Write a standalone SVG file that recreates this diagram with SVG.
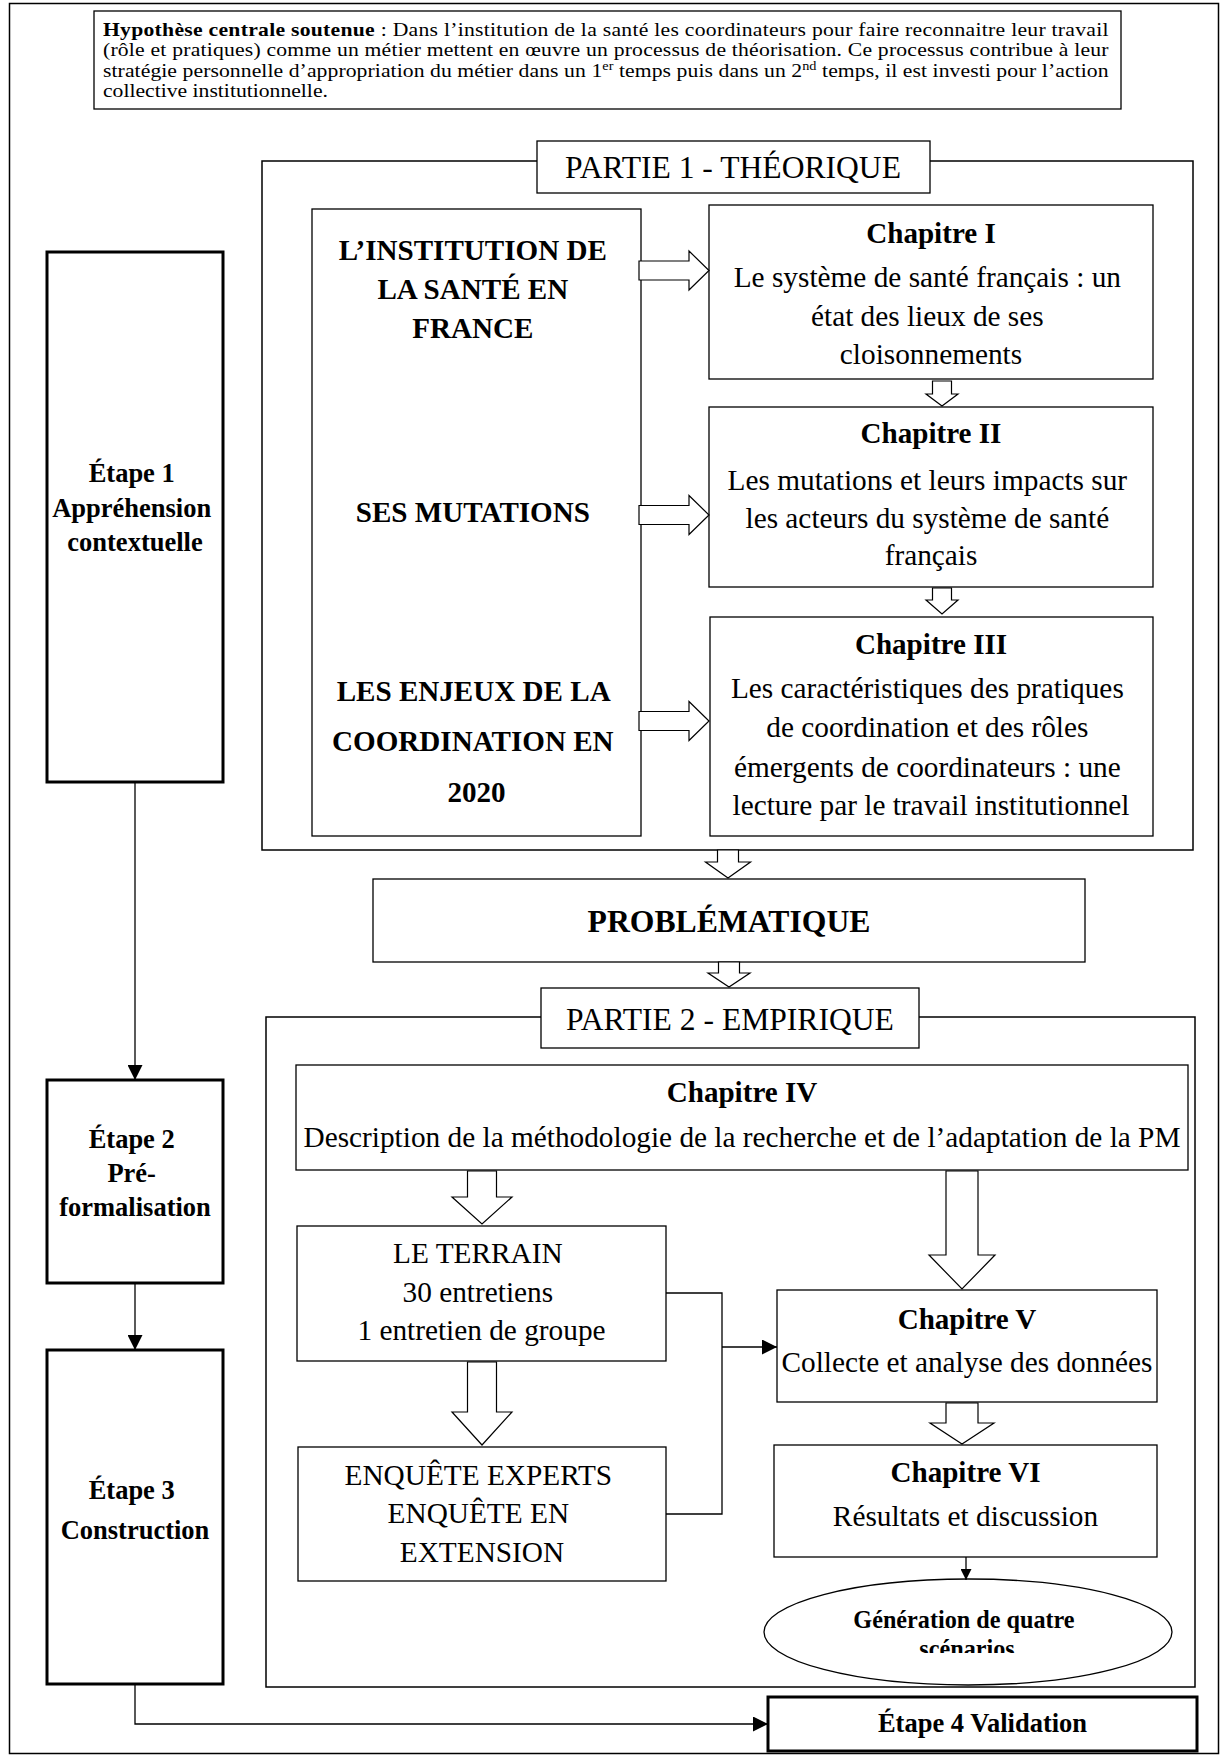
<svg xmlns="http://www.w3.org/2000/svg" width="1222" height="1756" viewBox="0 0 1222 1756">
<defs>
<style>
.t{font-family:"Liberation Serif","Times New Roman",serif;fill:#000}
.m{text-anchor:middle}
.hy{font-size:18.2px}
.pt{font-size:31.6px}
.lb{font-size:29.1px;font-weight:bold}
.ct{font-size:29.1px;font-weight:bold}
.cb{font-size:29.3px}
.et{font-size:26.5px;font-weight:bold}
.pb{font-size:31.7px;font-weight:bold}
.el{font-size:24.2px;font-weight:bold}
.box{fill:#fff;stroke:#000;stroke-width:1.3}
.thick{fill:#fff;stroke:#000;stroke-width:3}
.frame{fill:none;stroke:#000;stroke-width:1.5}
.blk{fill:#fff;stroke:#000;stroke-width:1.2;stroke-linejoin:miter}
.ln{fill:none;stroke:#000;stroke-width:1.3}
</style>
<marker id="ah" viewBox="0 0 15 15" refX="15" refY="7.5" markerWidth="15" markerHeight="15" markerUnits="userSpaceOnUse" orient="auto"><path d="M0,0 L15,7.5 L0,15 Z" fill="#000"/></marker>
<marker id="ah2" viewBox="0 0 11 11" refX="11" refY="5.5" markerWidth="11" markerHeight="11" markerUnits="userSpaceOnUse" orient="auto"><path d="M0,0 L11,5.5 L0,11 Z" fill="#000"/></marker>
<clipPath id="clipE"><rect x="760" y="1585" width="420" height="68"/></clipPath>
</defs>
<rect width="1222" height="1756" fill="#fff"/>
<rect x="9.5" y="3.5" width="1209" height="1750" class="frame"/>

<g id="hypothese">
<rect x="94" y="11" width="1027" height="98" class="box"/>
<text class="t hy" transform="translate(103 0) scale(1.19 1)" x="0" y="36" textLength="845" lengthAdjust="spacing"><tspan font-weight="bold">Hypothèse centrale soutenue</tspan> : Dans l’institution de la santé les coordinateurs pour faire reconnaitre leur travail</text>
<text class="t hy" transform="translate(103 0) scale(1.19 1)" x="0" y="56.3" textLength="845" lengthAdjust="spacing">(rôle et pratiques) comme un métier mettent en œuvre un processus de théorisation. Ce processus contribue à leur</text>
<text class="t hy" transform="translate(103 0) scale(1.19 1)" x="0" y="76.6" textLength="845" lengthAdjust="spacing">stratégie personnelle d’appropriation du métier dans un 1<tspan font-size="12px" dy="-7">er</tspan><tspan dy="7"> temps puis dans un 2</tspan><tspan font-size="12px" dy="-7">nd</tspan><tspan dy="7"> temps, il est investi pour l’action</tspan></text>
<text class="t hy" transform="translate(103 0) scale(1.19 1)" x="0" y="97">collective institutionnelle.</text>
</g>

<g id="partie1">
<rect x="262" y="161" width="931" height="689" class="frame"/>
<rect x="537" y="141" width="393" height="52" class="box"/>
<text class="t m pt" x="733" y="178">PARTIE 1 - THÉORIQUE</text>
</g>

<g id="contexte">
<rect x="312" y="209" width="329" height="627" class="box"/>
<text class="t m lb">
<tspan x="476.5" y="260">L’INSTITUTION DE</tspan>
<tspan x="476.5" y="299">LA SANTÉ EN</tspan>
<tspan x="476.5" y="338">FRANCE</tspan>
<tspan x="476.5" y="522">SES MUTATIONS</tspan>
<tspan x="476.5" y="701">LES ENJEUX DE LA</tspan>
<tspan x="476.5" y="751">COORDINATION EN</tspan>
<tspan x="476.5" y="802">2020</tspan>
</text>
</g>

<g id="chapitre1">
<rect x="709" y="205" width="444" height="174" class="box"/>
<text class="t m ct" x="931" y="243">Chapitre I</text>
<text class="t m cb">
<tspan x="931" y="287">Le système de santé français : un</tspan>
<tspan x="931" y="325.5">état des lieux de ses</tspan>
<tspan x="931" y="364">cloisonnements</tspan>
</text>
</g>

<g id="chapitre2">
<rect x="709" y="407" width="444" height="180" class="box"/>
<text class="t m ct" x="931" y="443">Chapitre II</text>
<text class="t m cb">
<tspan x="931" y="490">Les mutations et leurs impacts sur</tspan>
<tspan x="931" y="528">les acteurs du système de santé</tspan>
<tspan x="931" y="565">français</tspan>
</text>
</g>

<g id="chapitre3">
<rect x="710" y="617" width="443" height="219" class="box"/>
<text class="t m ct" x="931" y="654">Chapitre III</text>
<text class="t m cb">
<tspan x="931" y="698">Les caractéristiques des pratiques</tspan>
<tspan x="931" y="737">de coordination et des rôles</tspan>
<tspan x="931" y="776.5">émergents de coordinateurs : une</tspan>
<tspan x="931" y="815">lecture par le travail institutionnel</tspan>
</text>
</g>

<g id="problematique">
<rect x="373" y="879" width="712" height="83" class="box"/>
<text class="t m pb" x="729" y="932">PROBLÉMATIQUE</text>
</g>

<g id="partie2">
<rect x="266" y="1017" width="929" height="670" class="frame"/>
<rect x="541" y="988" width="378" height="60" class="box"/>
<text class="t m pt" x="730" y="1030">PARTIE 2 - EMPIRIQUE</text>
</g>

<g id="chapitre4">
<rect x="296" y="1065" width="892" height="105" class="box"/>
<text class="t m ct" x="742" y="1102">Chapitre IV</text>
<text class="t m cb" x="742" y="1147">Description de la méthodologie de la recherche et de l’adaptation de la PM</text>
</g>

<g id="terrain">
<rect x="297" y="1226" width="369" height="135" class="box"/>
<text class="t m cb">
<tspan x="481.5" y="1263">LE TERRAIN</tspan>
<tspan x="481.5" y="1302">30 entretiens</tspan>
<tspan x="481.5" y="1340">1 entretien de groupe</tspan>
</text>
</g>

<g id="enquete">
<rect x="298" y="1447" width="368" height="134" class="box"/>
<text class="t m cb">
<tspan x="482" y="1485">ENQUÊTE EXPERTS</tspan>
<tspan x="482" y="1523">ENQUÊTE EN</tspan>
<tspan x="482" y="1562">EXTENSION</tspan>
</text>
</g>

<g id="chapitre5">
<rect x="777" y="1290" width="380" height="112" class="box"/>
<text class="t m ct" x="967" y="1328.5">Chapitre V</text>
<text class="t m cb" x="967" y="1372">Collecte et analyse des données</text>
</g>

<g id="chapitre6">
<rect x="774" y="1445" width="383" height="112" class="box"/>
<text class="t m ct" x="965.5" y="1482">Chapitre VI</text>
<text class="t m cb" x="965.5" y="1526">Résultats et discussion</text>
</g>

<g id="scenarios">
<ellipse cx="968" cy="1632" rx="204" ry="53" class="box"/>
<g clip-path="url(#clipE)">
<text class="t m el">
<tspan x="967" y="1628">Génération de quatre</tspan>
<tspan x="967" y="1657">scénarios</tspan>
</text>
</g>
</g>

<g id="etape1">
<rect x="47" y="252" width="176" height="530" class="thick"/>
<text class="t m et">
<tspan x="135" y="482">Étape 1</tspan>
<tspan x="135" y="516.5">Appréhension</tspan>
<tspan x="135" y="551">contextuelle</tspan>
</text>
</g>

<g id="etape2">
<rect x="47" y="1080" width="176" height="203" class="thick"/>
<text class="t m et">
<tspan x="135" y="1148">Étape 2</tspan>
<tspan x="135" y="1182">Pré-</tspan>
<tspan x="135" y="1216">formalisation</tspan>
</text>
</g>

<g id="etape3">
<rect x="47" y="1350" width="176" height="334" class="thick"/>
<text class="t m et">
<tspan x="135" y="1499">Étape 3</tspan>
<tspan x="135" y="1539">Construction</tspan>
</text>
</g>

<g id="etape4">
<rect x="768" y="1697" width="429" height="54" class="thick"/>
<text class="t m et" x="982.5" y="1732">Étape 4 Validation</text>
</g>

<g id="connectors">
<path class="blk" d="M639,261 L689,261 L689,251 L709,270.5 L689,290 L689,280 L639,280 Z"/>
<path class="blk" d="M639,505.5 L689,505.5 L689,495.5 L709,515 L689,534.5 L689,524.5 L639,524.5 Z"/>
<path class="blk" d="M639,711.5 L689,711.5 L689,701.5 L709,721 L689,740.5 L689,730.5 L639,730.5 Z"/>
<path class="blk" d="M932.5,381 L951.5,381 L951.5,394 L958,394 L942,406 L926,394 L932.5,394 Z"/>
<path class="blk" d="M932.5,588 L951.5,588 L951.5,600 L958,600 L942,614 L926,600 L932.5,600 Z"/>
<path class="blk" d="M717.5,850 L738.5,850 L738.5,862 L750.5,862 L728,878 L705.5,862 L717.5,862 Z"/>
<path class="blk" d="M718.5,962 L739.5,962 L739.5,973 L750,973 L729,987 L708,973 L718.5,973 Z"/>
<path class="blk" d="M467.5,1171 L496.5,1171 L496.5,1197 L512,1197 L482,1224 L452,1197 L467.5,1197 Z"/>
<path class="blk" d="M946,1171 L978,1171 L978,1255 L995,1255 L962,1289 L929,1255 L946,1255 Z"/>
<path class="blk" d="M467.5,1362 L496.5,1362 L496.5,1412 L512,1412 L482,1445 L452,1412 L467.5,1412 Z"/>
<path class="blk" d="M946,1403 L978,1403 L978,1423 L994,1423 L962,1444 L930,1423 L946,1423 Z"/>
<path class="ln" d="M666,1293 H722 V1514 H666"/>
<path class="ln" d="M722,1347 H777" marker-end="url(#ah)"/>
<path class="ln" d="M966,1557 V1580" marker-end="url(#ah2)"/>
<path class="ln" d="M135,782 V1080" marker-end="url(#ah)"/>
<path class="ln" d="M135,1283 V1350" marker-end="url(#ah)"/>
<path class="ln" d="M135,1684 V1724 H768" marker-end="url(#ah)"/>
</g>
</svg>
